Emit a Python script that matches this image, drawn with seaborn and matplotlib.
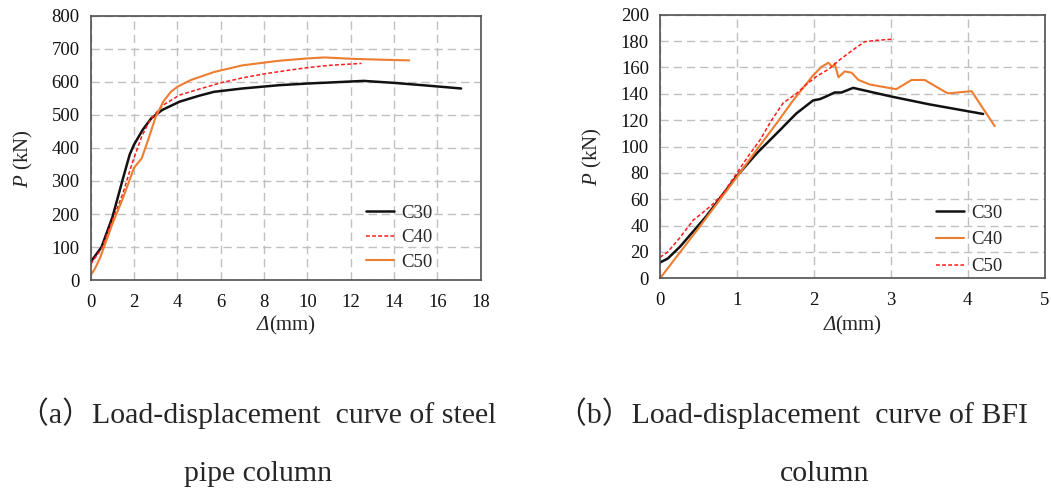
import numpy as np
import pandas as pd
import matplotlib
matplotlib.use("Agg")
import matplotlib.pyplot as plt
import seaborn as sns
from matplotlib.offsetbox import TextArea, HPacker, AnchoredOffsetbox

# ---- data ----
# (a) steel pipe column
a_c30_x = [0, 0.5, 1.0, 1.5, 1.8, 2.0, 2.4, 2.8, 3.3, 4.1, 5.0, 5.7, 7.0, 8.7, 10.0, 11.0, 12.6, 14.0, 15.5, 17.1]
a_c30_y = [55, 100, 190, 310, 380, 410, 455, 490, 515, 540, 558, 570, 580, 590, 595, 598, 603, 597, 589, 580]
a_c40_x = [0, 0.5, 1.0, 1.5, 1.8, 2.0, 2.35, 2.7, 3.0, 3.35, 4.1, 5.0, 6.0, 7.0, 8.0, 9.0, 10.0, 11.0, 12.5]
a_c40_y = [48, 95, 180, 265, 330, 370, 434, 480, 505, 530, 560, 578, 597, 612, 624, 634, 643, 650, 656]
a_c50_x = [0, 0.2, 0.45, 1.0, 1.5, 2.0, 2.35, 2.65, 3.0, 3.35, 3.7, 4.0, 4.6, 5.7, 7.0, 8.7, 10.0, 10.8, 12.0, 13.5, 14.7]
a_c50_y = [15, 35, 70, 170, 250, 340, 368, 424, 494, 540, 570, 585, 605, 630, 650, 664, 671, 674, 670, 667, 665]

# (b) BFI column
b_c30_x = [0, 0.1, 0.26, 0.6, 0.99, 1.26, 1.56, 1.77, 1.99, 2.08, 2.16, 2.27, 2.36, 2.51, 3.0, 3.5, 4.2]
b_c30_y = [12, 15, 24, 47, 77, 95, 112.5, 125, 135, 136, 138, 141, 141, 144.5, 138, 132, 124.7]
b_c40_x = [0, 0.5, 1.0, 1.25, 1.52, 1.73, 1.99, 2.1, 2.19, 2.22, 2.25, 2.27, 2.32, 2.4, 2.49, 2.58, 2.73,
           3.07, 3.27, 3.44, 3.74, 4.05, 4.35]
b_c40_y = [0, 38, 77, 97, 118, 135, 154, 160.5, 163.6, 161.5, 161, 163, 152.5, 157, 156, 150.5, 147,
           143.5, 150.5, 150.5, 140.3, 142, 115.5]
b_c50_x = [0, 0.1, 0.26, 0.43, 0.6, 0.7, 0.82, 1.0, 1.15, 1.3, 1.45, 1.6, 1.77, 1.9, 2.03, 2.2, 2.34,
           2.5, 2.66, 2.8, 3.04]
b_c50_y = [16, 20, 31, 44, 52, 57, 64.5, 80, 93, 105, 120, 133, 140, 147, 153, 159, 166,
           173, 179.5, 180.5, 181.5]

a_xticks = list(range(0, 19, 2))
a_yticks = list(range(0, 801, 100))
b_xticks = list(range(0, 6))
b_yticks = list(range(0, 201, 20))

caption_a = ["（a）Load-displacement  curve of steel", "pipe column"]
caption_b = ["（b）Load-displacement  curve of BFI", "column"]

BLACK = "#111111"
ORANGE = "#ED7D31"
RED = "#FF1A1A"

sns.set_style("white")
plt.rcParams["font.family"] = ["Liberation Serif", "Noto Sans CJK SC", "DejaVu Sans"]
plt.rcParams["mathtext.fontset"] = "custom"
plt.rcParams["mathtext.rm"] = "Liberation Serif"
plt.rcParams["mathtext.it"] = "Liberation Serif:italic"

fig = plt.figure(figsize=(10.51, 4.94), dpi=100)
ax1 = fig.add_axes([0.0863, 0.433, 0.371, 0.535])
ax2 = fig.add_axes([0.628, 0.4366, 0.366, 0.5336])


def draw(ax, x, y, color, label, lw, ls="-"):
    df = pd.DataFrame({"x": x, "y": y})
    sns.lineplot(data=df, x="x", y="y", ax=ax, color=color, label=label,
                 linewidth=lw, linestyle=ls, sort=False, estimator=None)


draw(ax1, a_c30_x, a_c30_y, BLACK, "C30", 1.8)
draw(ax1, a_c40_x, a_c40_y, RED, "C40", 1.1, (0, (2.5, 1.5)))
draw(ax1, a_c50_x, a_c50_y, ORANGE, "C50", 1.5)

draw(ax2, b_c30_x, b_c30_y, BLACK, "C30", 1.8)
draw(ax2, b_c40_x, b_c40_y, ORANGE, "C40", 1.5)
draw(ax2, b_c50_x, b_c50_y, RED, "C50", 1.1, (0, (2.5, 1.5)))

setups = [
    (ax1, a_xticks, a_yticks, (0, 18), (0, 800), (0.706, 0.16), 0.4, (-0.143, 0.458), -0.136),
    (ax2, b_xticks, b_yticks, (0, 5), (0, 200), (0.717, 0.146), 0.52, (-0.145, 0.46), -0.143),
]
for ax, xt, yt, xl, yl, legpos, lsp, ylc, xly in setups:
    ax.set_xlim(*xl)
    ax.set_ylim(*yl)
    ax.set_xticks(xt)
    ax.set_yticks(yt)
    ax.grid(True, color="#C0C0C0", linestyle=(0, (6, 3.5)), linewidth=1.0)
    ax.set_axisbelow(True)
    for s in ax.spines.values():
        s.set_color("#505050")
        s.set_linewidth(1.2)
    ax.tick_params(direction="in", length=5, width=1.1, color="#505050",
                   labelsize=13.5, labelcolor="#111111")
    ax.tick_params(axis="x", pad=10)
    ax.tick_params(axis="y", pad=8)
    ax.set_xlabel("")
    ax.set_ylabel(r"$P$ (kN)", fontsize=15)
    ax.yaxis.set_label_coords(*ylc)
    # x label: italic delta followed by upright (mm)
    box = HPacker(children=[TextArea("Δ", textprops=dict(style="italic", size=15)),
                            TextArea("(mm)", textprops=dict(size=15))],
                  align="baseline", pad=0, sep=0)
    ax.add_artist(AnchoredOffsetbox(loc="upper center", child=box, pad=0, borderpad=0,
                                    frameon=False, bbox_to_anchor=(0.5, xly),
                                    bbox_transform=ax.transAxes))
    ax.legend(loc="center left", bbox_to_anchor=legpos, frameon=False,
              fontsize=13.5, handlelength=1.5, handletextpad=0.4,
              borderpad=0, borderaxespad=0, labelspacing=lsp)

cap_size = 21.5
fig.text(258 / 1051, 1 - 413 / 494, caption_a[0], ha="center", va="center", fontsize=cap_size)
fig.text(258 / 1051, 1 - 474 / 494, caption_a[1], ha="center", va="center", fontsize=cap_size)
fig.text(557 / 1051, 1 - 413 / 494, caption_b[0], ha="left", va="center", fontsize=cap_size)
fig.text(825 / 1051, 1 - 474 / 494, caption_b[1], ha="center", va="center", fontsize=cap_size)

fig.savefig("out.png", dpi=100)
